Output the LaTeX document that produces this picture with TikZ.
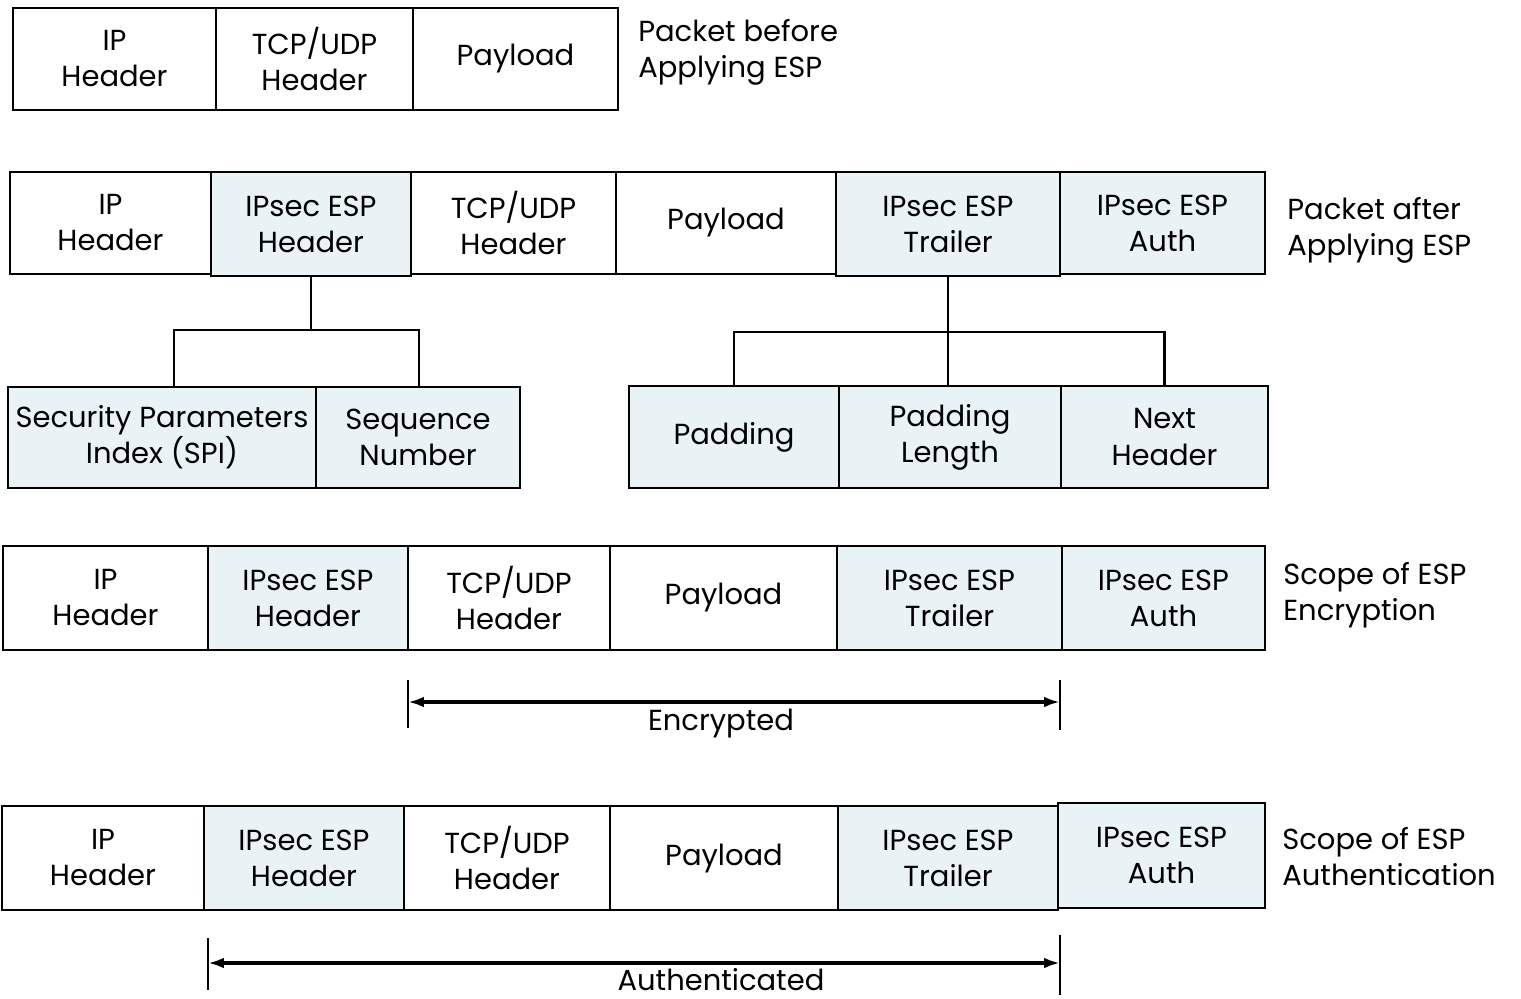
\documentclass[tikz,border=0pt]{standalone}
\usepackage{fontspec}
\setmainfont{Poppins}
\usetikzlibrary{arrows.meta}
\definecolor{espfill}{RGB}{233,243,245}
\tikzset{
  cellbox/.style={draw, line width=1.1pt, inner sep=0pt, outer sep=0pt, align=center,
    font=\fontsize{16.5}{20.5}\selectfont},
  plain/.style={cellbox, fill=white},
  esp/.style={cellbox, fill=espfill, line width=1.5pt},
  rowlabel/.style={anchor=west, align=left, inner sep=0pt, font=\fontsize{16.5}{20.5}\selectfont},
  treeline/.style={line width=1.5pt},
  tick/.style={line width=1pt},
  span/.style={line width=1.8pt, {Latex[length=9pt,width=6pt]}-{Latex[length=9pt,width=6pt]}},
  spanlabel/.style={font=\fontsize{16.5}{20.5}\selectfont, inner sep=0pt}
}
% cell{name}{x1}{x2}{y1}{y2}{style}{text}
\newcommand\cell[7]{\node[#6, minimum width={(#3-#2)*0.02cm}, minimum height={(#5-#4)*0.02cm}, anchor=north west] (#1) at (#2,#4) {#7};}
\begin{document}
\begin{tikzpicture}[x=0.02cm, y=-0.02cm]
\useasboundingbox (0,0) rectangle (1521,998);

% original packet
\cell{ip1}{13}{216}{8}{110}{plain}{IP\\Header}
\cell{tcp1}{216}{413}{8}{110}{plain}{TCP/UDP\\Header}
\cell{pay1}{413}{618}{8}{110}{plain}{Payload}
\node[rowlabel] (lab1) at (638,52) {Packet before\\Applying ESP};

% packet after ESP
\cell{ip2}{10}{211}{172}{274}{plain}{IP\\Header}
\cell{tcp2}{411}{616}{172}{274}{plain}{TCP/UDP\\Header}
\cell{pay2}{616}{836}{172}{274}{plain}{Payload}
\cell{esph2}{211}{411}{172}{276}{esp}{IPsec ESP\\Header}
\cell{trl2}{836}{1060}{172}{276}{esp}{IPsec ESP\\Trailer}
\cell{auth2}{1060}{1265}{172}{274}{esp}{IPsec ESP\\Auth}
\node[rowlabel] (lab2) at (1287,230) {Packet after\\Applying ESP};

% ESP header fields
\cell{spi}{8}{316}{387}{488}{esp}{Security Parameters\\Index (SPI)}
\cell{seq}{316}{520}{387}{488}{esp}{Sequence\\Number}
\coordinate (busL) at (174,330);
\coordinate (busR) at (419,330);
\draw[treeline] (esph2.south) -- (esph2.south |- busL);
\draw[treeline] (busL |- spi.north) -- (busL) -- (busR) -- (busR |- seq.north);

% ESP trailer fields
\cell{pad}{629}{839}{386}{488}{esp}{Padding}
\cell{padlen}{839}{1061}{386}{488}{esp}{Padding\\Length}
\cell{nxt}{1061}{1268}{386}{488}{esp}{Next\\Header}
\coordinate (bus2) at (952,332);
\draw[treeline] (trl2.south) -- (trl2.south |- padlen.north);
\draw[treeline] (pad.north) -- (pad.north |- bus2) -- (nxt.north |- bus2) -- (nxt.north);

% scope of encryption
\cell{ip3}{3}{208}{546}{650}{plain}{IP\\Header}
\cell{tcp3}{408}{610}{546}{650}{plain}{TCP/UDP\\Header}
\cell{pay3}{610}{837}{546}{650}{plain}{Payload}
\cell{esph3}{208}{408}{546}{650}{esp}{IPsec ESP\\Header}
\cell{trl3}{837}{1062}{546}{650}{esp}{IPsec ESP\\Trailer}
\cell{auth3}{1062}{1265}{546}{650}{esp}{IPsec ESP\\Auth}
\node[rowlabel] (lab3) at (1283,595) {Scope of ESP\\Encryption};

\coordinate (encL) at (408,702);
\coordinate (encR) at (1060,702);
\draw[tick] (408,680) -- (408,728);
\draw[tick] (1060,680) -- (1060,730);
\draw[span] (encL) -- (encR);
\node[spanlabel] (enc) at (721,724) {Encrypted};

% scope of authentication
\cell{ip4}{2}{204}{806}{910}{plain}{IP\\Header}
\cell{tcp4}{404}{610}{806}{910}{plain}{TCP/UDP\\Header}
\cell{pay4}{610}{838}{806}{910}{plain}{Payload}
\cell{esph4}{204}{404}{806}{910}{esp}{IPsec ESP\\Header}
\cell{trl4}{838}{1058}{806}{910}{esp}{IPsec ESP\\Trailer}
\cell{auth4}{1058}{1265}{803}{908}{esp}{IPsec ESP\\Auth}
\node[rowlabel] (lab4) at (1282,857) {Scope of ESP\\Authentication};

\coordinate (autL) at (208,963);
\coordinate (autR) at (1060,963);
\draw[tick] (208,938) -- (208,990);
\draw[tick] (1060,935) -- (1060,995);
\draw[span] (autL) -- (autR);
\node[spanlabel] (aut) at (721,980) {Authenticated};
\end{tikzpicture}
\end{document}
